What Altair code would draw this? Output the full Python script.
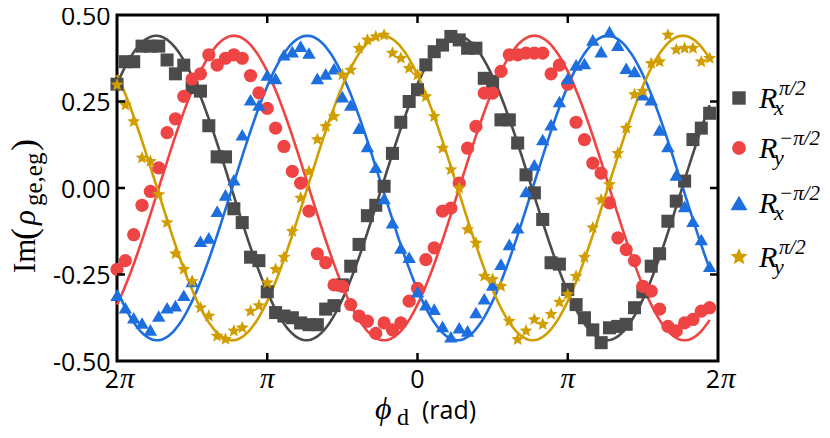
import math
import altair as alt
import pandas as pd

# ---------------- data ----------------
phase_deg = list(range(-360, 360, 10))  # phi_d in degrees, -2pi .. 2pi step 10 deg

rx_p = [0.30, 0.365, 0.365, 0.41, 0.41, 0.41, 0.37, 0.33, 0.355, 0.29, 0.28, 0.18, 0.09, 0.09, -0.06, -0.10, -0.20, -0.21, -0.30,
        -0.36, -0.37, -0.375, -0.39, -0.395, -0.395, -0.35, -0.34, -0.28, -0.226, -0.163, -0.08, -0.05, 0.005, 0.10, 0.19, 0.25,
        0.284, 0.356, 0.394, 0.413, 0.438, 0.428, 0.404, 0.404, 0.317, 0.308, 0.197, 0.197, 0.13, 0.038, -0.014, -0.091, -0.216, -0.22, -0.293,
        -0.337, -0.375, -0.41, -0.447, -0.404, -0.40, -0.394, -0.346, -0.30, -0.226, -0.19, -0.096, -0.038, 0.02, 0.14, 0.173, 0.216]

ry_m = [-0.235, -0.21, -0.135, -0.05, -0.01, 0.058, 0.16, 0.20, 0.265, 0.315, 0.33, 0.385, 0.355, 0.375, 0.385, 0.375, 0.325, 0.275, 0.23,
        0.173, 0.12, 0.048, 0.014, -0.067, -0.19, -0.216, -0.28, -0.284, -0.337, -0.37, -0.385, -0.42, -0.39, -0.41, -0.39, -0.327,
        -0.29, -0.207, -0.173, -0.067, -0.058, 0.014, 0.115, 0.178, 0.274, 0.274, 0.337, 0.385, 0.385, 0.39, 0.39, 0.39, 0.33, 0.355, 0.30,
        0.19, 0.14, 0.072, 0.043, -0.043, -0.144, -0.178, -0.21, -0.284, -0.298, -0.35, -0.40, -0.413, -0.39, -0.38, -0.356, -0.346]

rx_m = [-0.31, -0.346, -0.375, -0.39, -0.41, -0.37, -0.346, -0.34, -0.31, -0.27, -0.154, -0.144, -0.067, -0.02, 0.024, 0.154, 0.255, 0.24, 0.327,
        0.317, 0.385, 0.394, 0.41, 0.39, 0.317, 0.33, 0.345, 0.264, 0.24, 0.173, 0.12, 0.06, -0.03, -0.10, -0.173, -0.20,
        -0.30, -0.337, -0.35, -0.40, -0.43, -0.404, -0.413, -0.36, -0.32, -0.28, -0.22, -0.163, -0.115, -0.01, 0.067, 0.14, 0.183, 0.25, 0.317,
        0.356, 0.36, 0.428, 0.394, 0.452, 0.413, 0.346, 0.337, 0.27, 0.255, 0.168, 0.12, 0.038, -0.053, -0.096, -0.149, -0.226]

ry_p = [0.298, 0.24, 0.192, 0.087, 0.077, -0.019, -0.10, -0.19, -0.235, -0.27, -0.346, -0.37, -0.428, -0.437, -0.413, -0.404, -0.356, -0.34, -0.274,
        -0.235, -0.20, -0.125, -0.029, 0.048, 0.14, 0.178, 0.207, 0.327, 0.341, 0.404, 0.428, 0.4375, 0.442, 0.39, 0.375, 0.346,
        0.327, 0.264, 0.207, 0.115, 0.053, 0.0, -0.12, -0.159, -0.255, -0.264, -0.284, -0.385, -0.4375, -0.413, -0.38, -0.394, -0.365, -0.33, -0.308,
        -0.255, -0.20, -0.115, -0.034, 0.01, 0.10, 0.173, 0.27, 0.28, 0.36, 0.365, 0.442, 0.40, 0.404, 0.404, 0.365, 0.375]

series_names = ["Rx+pi/2", "Ry-pi/2", "Rx-pi/2", "Ry+pi/2"]
series_values = [rx_p, ry_m, rx_m, ry_p]
series_colors = ["#4b4b4b", "#ef4444", "#1d6fdf", "#d19e00"]

# sinusoidal fit parameters: amplitude, phase of maximum (deg), offset
fit_amp = [0.44, 0.44, 0.44, 0.44]
fit_phase = [47, 140, 228, -42]
fit_offset = [0.0, 0.0, 0.0, 0.0]

# tick labels
xtick_deg = [-360, -180, 0, 180, 360]
xtick_num = ["2", "", "0", "", "2"]
xtick_pi = ["π", "π", "", "π", "π"]
xtick_inner = [-180, 0, 180]
ytick_vals = [-0.5, -0.25, 0.0, 0.25, 0.5]
ytick_inner = [-0.25, 0.0, 0.25]

legend_sub = ["x", "y", "x", "y"]
legend_sup = ["π/2", "−π/2", "−π/2", "π/2"]


# ---------------- styling ----------------
def star_path(inner=0.45):
    pts = []
    for k in range(10):
        r = 1.0 if k % 2 == 0 else inner
        a = math.radians(-90 + 36 * k)
        pts.append((r * math.cos(a), r * math.sin(a)))
    return "M" + "L".join(f"{x:.3f},{y:.3f}" for x, y in pts) + "Z"

STAR = star_path()
series_shapes = ["square", "circle", "triangle-up", STAR]
series_sizes = [170, 185, 280, 330]
legend_sizes = [180, 190, 290, 330]

W, H = 601, 346
SANS = "Open Sans"
SERIF = "Liberation Serif"

xs = alt.Scale(domain=[-360, 360], nice=False, zero=False)
ys = alt.Scale(domain=[-0.5, 0.5], nice=False, zero=False)
yaxis = alt.Axis(values=ytick_vals, labelExpr="replace(format(datum.value, '.2f'), '\u2212', '-')",
                 ticks=False, domain=False, grid=False, labelFont=SANS, labelFontSize=25,
                 labelColor="black", labelPadding=7, title=None, labelFlush=False, labelOverlap=False,
                 labelOffset=1)
X = alt.X("deg:Q", scale=xs, axis=None)
Y = alt.Y("val:Q", scale=ys, axis=yaxis)

# ---------------- data frames ----------------
rows = []
for name, vals in zip(series_names, series_values):
    for d, v in zip(phase_deg, vals):
        rows.append({"deg": d, "val": v, "series": name})
pts_df = pd.DataFrame(rows)

layers = []

# fits
for name, a, p, o, c in zip(series_names, fit_amp, fit_phase, fit_offset, series_colors):
    layers.append(
        alt.Chart(alt.sequence(-360, 352, 2, as_="deg"))
        .transform_calculate(val=f"{o} + {a} * cos((datum.deg - ({p})) * PI / 180)")
        .mark_line(color=c, strokeWidth=2.6)
        .encode(x=X, y=Y)
    )

# points
layers.append(
    alt.Chart(pts_df).mark_point(filled=True, opacity=1)
    .encode(
        x=X, y=Y,
        color=alt.Color("series:N", scale=alt.Scale(domain=series_names, range=series_colors), legend=None),
        shape=alt.Shape("series:N", scale=alt.Scale(domain=series_names, range=series_shapes), legend=None),
        size=alt.Size("series:N", scale=alt.Scale(domain=series_names, range=series_sizes), legend=None),
    )
)

# inward ticks
xt_df = pd.DataFrame({"deg": xtick_inner})
yt_df = pd.DataFrame({"val": ytick_inner})
layers.append(alt.Chart(xt_df).mark_rule(color="black", strokeWidth=2.5)
              .encode(x=X, y=alt.value(H), y2=alt.value(H - 8)))
layers.append(alt.Chart(xt_df).mark_rule(color="black", strokeWidth=2.5)
              .encode(x=X, y=alt.value(0), y2=alt.value(8)))
layers.append(alt.Chart(yt_df).mark_rule(color="black", strokeWidth=2.5)
              .encode(y=Y, x=alt.value(0), x2=alt.value(8)))
layers.append(alt.Chart(yt_df).mark_rule(color="black", strokeWidth=2.5)
              .encode(y=Y, x=alt.value(W), x2=alt.value(W - 8)))

# x tick labels
xl_df = pd.DataFrame({"deg": xtick_deg, "num": xtick_num, "pi": xtick_pi})
LBL_Y = 373
layers.append(alt.Chart(xl_df).transform_filter("datum.num != '' && datum.pi != ''")
              .mark_text(align="right", baseline="alphabetic", font=SANS, fontSize=25, color="black", dx=2)
              .encode(x=X, y=alt.value(LBL_Y), text="num:N"))
layers.append(alt.Chart(xl_df).transform_filter("datum.num != '' && datum.pi != ''")
              .mark_text(align="left", baseline="alphabetic", font=SERIF, fontStyle="italic", fontSize=29, color="black", dx=3)
              .encode(x=X, y=alt.value(LBL_Y), text="pi:N"))
layers.append(alt.Chart(xl_df).transform_filter("datum.num == ''")
              .mark_text(align="center", baseline="alphabetic", font=SERIF, fontStyle="italic", fontSize=29, color="black")
              .encode(x=X, y=alt.value(LBL_Y), text="pi:N"))
layers.append(alt.Chart(xl_df).transform_filter("datum.pi == ''")
              .mark_text(align="center", baseline="alphabetic", font=SANS, fontSize=25, color="black")
              .encode(x=X, y=alt.value(LBL_Y), text="num:N"))

one = pd.DataFrame({"k": [0]})


def txt(text, x, y, size, font=SERIF, style="normal", align="left", angle=0):
    kw = dict(align=align, baseline="alphabetic", font=font, fontSize=size, fontStyle=style, color="black")
    if angle:
        kw["angle"] = angle
    return alt.Chart(one).mark_text(**kw).encode(x=alt.value(x), y=alt.value(y), text=alt.value(text))


# y title: Im(rho_{ge,eg})
TX = -82
layers += [
    txt("Im", TX, 258, 31, angle=270),
    txt("(", TX + 1, 225, 36, angle=270),
    txt("ρ", TX, 210, 31, style="italic", angle=270),
    txt("ge,eg", TX + 7, 191, 25, angle=270),
    txt(")", TX + 1, 136, 36, angle=270),
]

# x title: phi_d (rad)
layers += [
    txt("ϕ", 258, 404, 32, style="italic"),
    txt("d", 280, 410, 24),
    txt("(rad)", 305, 404, 25, font=SANS),
]

# legend
legend_y = [83, 133, 188, 242]
for i in range(4):
    my = legend_y[i]
    layers.append(alt.Chart(one).mark_point(filled=True, opacity=1, shape=series_shapes[i],
                                            size=legend_sizes[i], color=series_colors[i])
                  .encode(x=alt.value(622), y=alt.value(my)))
    layers.append(txt("R", 642, my + 10, 30, style="italic"))
    layers.append(txt(legend_sub[i], 657, my + 17, 22, style="italic"))
    layers.append(txt(legend_sup[i], 662, my - 3, 21, style="italic"))

chart = (
    alt.layer(*layers)
    .properties(width=W, height=H,
                autosize=alt.AutoSizeParams(type="none"),
                padding={"left": 109, "top": 7, "right": 104, "bottom": 65},
                background="white")
    .configure_view(stroke="black", strokeWidth=3)
)

chart.save("out.html", embed_options={"renderer": "svg", "actions": False})
